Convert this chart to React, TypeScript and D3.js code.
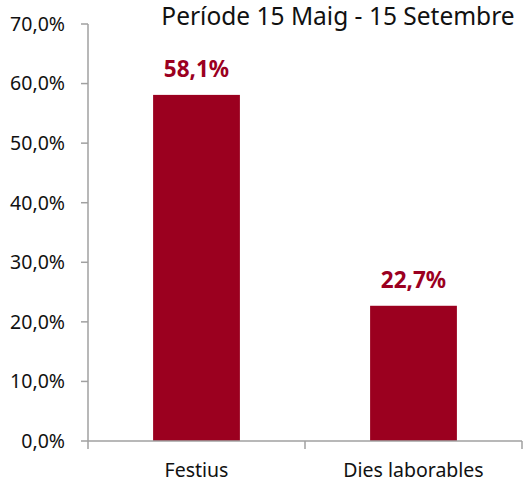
import React, { useEffect, useRef } from 'react';
import * as d3 from 'd3';

const categories = ['Festius', 'Dies laborables'];
const values = [58.1, 22.7];
const yTicks = [0, 10, 20, 30, 40, 50, 60, 70];
const title = 'Període 15 Maig - 15 Setembre';

const fmt = (v: number) => v.toFixed(1).replace('.', ',') + '%';

export default function App() {
  const svgRef = useRef<SVGSVGElement>(null);

  useEffect(() => {
    if (!svgRef.current) return;
    const svg = d3.select(svgRef.current);
    svg.selectAll('*').remove();

    const font = "'Noto Sans', 'Open Sans', sans-serif";
    const axisColor = '#a0a0a0';
    const barColor = '#9b001f';

    // plot area
    const left = 88, right = 522, top = 24, bottom = 441;

    const x = d3.scaleBand<string>().domain(categories).range([left, right]).padding(0);
    const y = d3.scaleLinear().domain([0, 70]).range([bottom, top]);

    // titol
    svg.append('text')
      .attr('x', 338)
      .attr('y', 25)
      .attr('text-anchor', 'middle')
      .attr('font-family', font)
      .attr('font-size', 24.5)
      .attr('fill', '#111')
      .text(title);

    // eix Y
    svg.append('line')
      .attr('x1', left).attr('x2', left)
      .attr('y1', y(70)).attr('y2', bottom)
      .attr('stroke', axisColor).attr('stroke-width', 1.5);

    const yt = svg.append('g');
    yt.selectAll('line').data(yTicks).join('line')
      .attr('x1', left - 7).attr('x2', left)
      .attr('y1', d => y(d)).attr('y2', d => y(d))
      .attr('stroke', axisColor).attr('stroke-width', 1.5);
    yt.selectAll('text').data(yTicks).join('text')
      .attr('x', 65)
      .attr('y', d => y(d))
      .attr('dy', '0.35em')
      .attr('text-anchor', 'end')
      .attr('font-family', font)
      .attr('font-size', 19.5)
      .attr('fill', '#111')
      .text(d => fmt(d));

    // barres
    const barW = x.bandwidth() * 0.4;
    svg.selectAll('rect.bar').data(values).join('rect')
      .attr('class', 'bar')
      .attr('x', (_, i) => x(categories[i])! + (x.bandwidth() - barW) / 2)
      .attr('y', d => y(d))
      .attr('width', barW)
      .attr('height', d => bottom - y(d))
      .attr('fill', barColor);

    // etiquetes
    svg.selectAll('text.lbl').data(values).join('text')
      .attr('class', 'lbl')
      .attr('x', (_, i) => x(categories[i])! + x.bandwidth() / 2)
      .attr('y', d => y(d) - 18)
      .attr('text-anchor', 'middle')
      .attr('font-family', font)
      .attr('font-weight', 'bold')
      .attr('font-size', 22.5)
      .attr('fill', barColor)
      .text(d => fmt(d));

    // eix X
    svg.append('line')
      .attr('x1', left).attr('x2', right)
      .attr('y1', bottom).attr('y2', bottom)
      .attr('stroke', axisColor).attr('stroke-width', 1.5);

    const xEdges = [left, ...categories.map(c => x(c)! + x.bandwidth())];
    svg.selectAll('line.xt').data(xEdges).join('line')
      .attr('class', 'xt')
      .attr('x1', d => d).attr('x2', d => d)
      .attr('y1', bottom).attr('y2', bottom + 8)
      .attr('stroke', axisColor).attr('stroke-width', 1.5);

    svg.selectAll('text.cat').data(categories).join('text')
      .attr('class', 'cat')
      .attr('x', d => x(d)! + x.bandwidth() / 2)
      .attr('y', 477)
      .attr('text-anchor', 'middle')
      .attr('font-family', font)
      .attr('font-size', 19.5)
      .attr('fill', '#111')
      .text(d => d);
  }, []);

  return (
    <svg
      ref={svgRef}
      width={530}
      height={482}
      style={{ position: 'absolute', left: 0, top: 0, background: '#fff' }}
    />
  );
}
